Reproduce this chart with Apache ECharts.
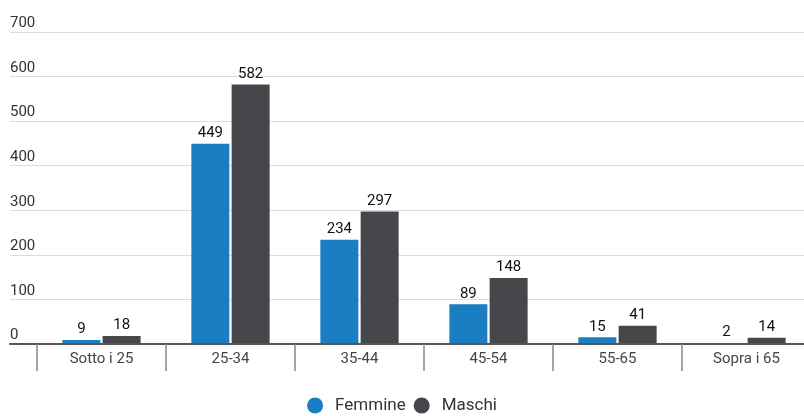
<!DOCTYPE html>
<html>
<head>
<meta charset="utf-8">
<script src="https://cdn.jsdelivr.net/npm/echarts@6/dist/echarts.min.js"></script>
<style>
  html, body { margin: 0; padding: 0; background: #fff; }
  #chart { width: 804px; height: 416px; }
</style>
</head>
<body>
<div id="chart"></div>
<script>
const categories = ['Sotto i 25', '25-34', '35-44', '45-54', '55-65', 'Sopra i 65']
const femmine = [9, 449, 234, 89, 15, 2]
const maschi = [18, 582, 297, 148, 41, 14]

const chart = echarts.init(document.getElementById('chart'), null, { renderer: 'canvas' })

const labelStyle = {
  show: true,
  position: 'top',
  distance: 3,
  color: '#111',
  fontSize: 15,
  fontFamily: 'Roboto'
}

const option = {
  animation: false,
  textStyle: { fontFamily: 'Roboto' },
  legend: {
    bottom: -3,
    left: 'center',
    icon: 'circle',
    itemWidth: 16,
    itemHeight: 16,
    itemGap: 8,
    textStyle: { color: '#333', fontSize: 17, fontFamily: 'Roboto', padding: [0, 0, 0, 7] },
    data: ['Femmine', 'Maschi']
  },
  grid: [
    // bars: last category runs past the right edge
    { left: 37, width: 774, top: 32, bottom: 72, outerBoundsMode: 'none' },
    // background gridlines, wider than the bars area
    { left: 10, right: 0, top: 32, bottom: 72 }
  ],
  xAxis: [
    {
      type: 'category',
      gridIndex: 0,
      data: categories,
      axisLine: { lineStyle: { color: '#555', width: 2 } },
      axisTick: { show: true, length: 27, interval: 0, lineStyle: { color: '#888', width: 1.5 } },
      axisLabel: { color: '#444', fontSize: 15, margin: 8, interval: 0 },
      z: 5
    },
    {
      type: 'value',
      gridIndex: 1,
      min: 0,
      max: 1,
      axisLine: { show: true, onZero: false, lineStyle: { color: '#555', width: 2 } },
      axisTick: { show: false },
      axisLabel: { show: false },
      splitLine: { show: false }
    }
  ],
  yAxis: [
    {
      type: 'value',
      gridIndex: 0,
      min: 0,
      max: 700,
      interval: 100,
      axisLine: { show: false },
      axisTick: { show: false },
      axisLabel: { show: false },
      splitLine: { show: false }
    },
    {
      type: 'value',
      gridIndex: 1,
      min: 0,
      max: 700,
      interval: 100,
      axisLine: { show: false },
      axisTick: { show: false },
      axisLabel: {
        inside: true,
        margin: 0,
        verticalAlign: 'bottom',
        padding: [0, 0, 1, 0],
        color: '#333',
        fontSize: 15
      },
      splitLine: { lineStyle: { color: '#dcdcdc', width: 1 } }
    }
  ],
  series: [
    {
      name: 'Femmine',
      type: 'bar',
      xAxisIndex: 0,
      yAxisIndex: 0,
      data: femmine,
      barWidth: 38,
      barGap: '6%',
      itemStyle: { color: '#1a7ec2' },
      label: labelStyle,
      z: 3
    },
    {
      name: 'Maschi',
      type: 'bar',
      xAxisIndex: 0,
      yAxisIndex: 0,
      data: maschi,
      barWidth: 38,
      itemStyle: { color: '#46474b' },
      label: labelStyle,
      z: 3
    }
  ]
}

chart.setOption(option)
window.addEventListener('resize', chart.resize)
</script>
</body>
</html>
